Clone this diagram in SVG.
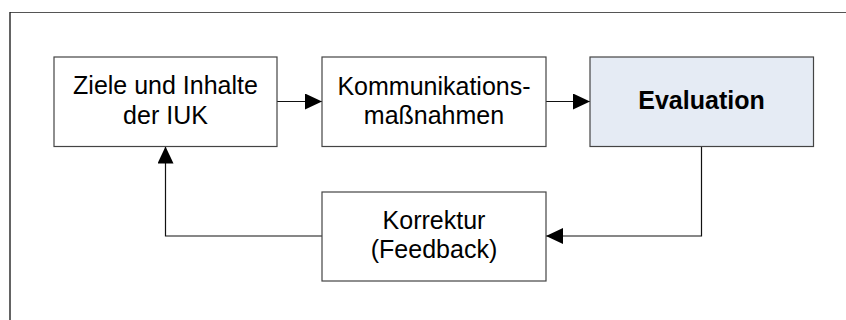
<svg xmlns="http://www.w3.org/2000/svg" width="846" height="320" viewBox="0 0 846 320">
<style>
.box{fill:#ffffff;stroke:#444444;stroke-width:1.2}
.hl{fill:#E5EBF4}
.t{font-family:"Liberation Sans",Arial,sans-serif;font-size:25px;fill:#000;text-anchor:middle}
.b{font-weight:bold}
.c{fill:none;stroke:#111111;stroke-width:1.2}
</style>
<defs>
<marker id="ah" viewBox="0 0 17 16" refX="17" refY="8" markerWidth="17" markerHeight="16" markerUnits="userSpaceOnUse" orient="auto">
<path d="M0,0 L17,8 L0,16 Z" fill="#000"/>
</marker>
</defs>
<g id="frame">
<line x1="10" y1="12.5" x2="846" y2="12.5" stroke="#555" stroke-width="1.2"/>
<line x1="10" y1="12" x2="10" y2="320" stroke="#222" stroke-width="1.4"/>
</g>
<g id="connectors">
<line class="c" x1="277" y1="101.5" x2="322" y2="101.5" marker-end="url(#ah)"/>
<line class="c" x1="546" y1="101.5" x2="590" y2="101.5" marker-end="url(#ah)"/>
<polyline class="c" points="701.5,146.5 701.5,236 546,236" marker-end="url(#ah)"/>
<polyline class="c" points="322,236 165.5,236 165.5,146.5" marker-end="url(#ah)"/>
</g>
<g id="n1">
<rect class="box" x="54" y="57" width="223" height="89.5"/>
<text class="t" x="165.5" y="94">Ziele und Inhalte</text>
<text class="t" x="165.5" y="124">der IUK</text>
</g>
<g id="n2">
<rect class="box" x="322" y="57" width="224" height="89.5"/>
<text class="t" x="434" y="95">Kommunikations-</text>
<text class="t" x="434" y="124">maßnahmen</text>
</g>
<g id="n3">
<rect class="box hl" x="590" y="57" width="223.5" height="89.5"/>
<text class="t b" x="701.5" y="109">Evaluation</text>
</g>
<g id="n4">
<rect class="box" x="322" y="192" width="224" height="89"/>
<text class="t" x="434" y="229">Korrektur</text>
<text class="t" x="434" y="258">(Feedback)</text>
</g>
</svg>
